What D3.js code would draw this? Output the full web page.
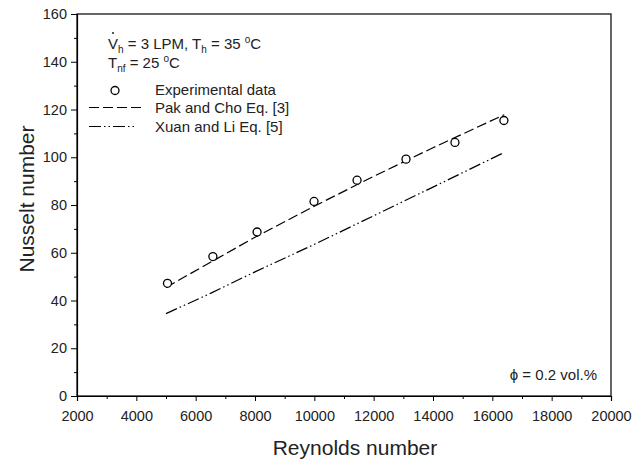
<!DOCTYPE html>
<html>
<head>
<meta charset="utf-8">
<title>Nusselt vs Reynolds</title>
<script src="https://cdn.jsdelivr.net/npm/d3@7"></script>
<style>
  body { margin: 0; background: #fff; }
  text { font-family: "Liberation Sans", Arial, sans-serif; fill: #222; }
</style>
</head>
<body>
<script>
// data
var expRe = [5050, 6580, 8070, 9990, 11440, 13090, 14740, 16390];
var expNu = [47.2, 58.4, 68.7, 81.5, 90.4, 99.2, 106.2, 115.4];

var pakRe = [5000, 6500, 8000, 10000, 12000, 14000, 16400];
var pakNu = [45.5, 56, 66.5, 79.5, 92, 104, 117.8];

var xuanRe = [5000, 6500, 8000, 10000, 12000, 14000, 16400];
var xuanNu = [34.5, 43, 52, 63.5, 75.5, 87.5, 102];

var xTicks = [2000, 4000, 6000, 8000, 10000, 12000, 14000, 16000, 18000, 20000];
var yTicks = [0, 20, 40, 60, 80, 100, 120, 140, 160];

var W = 632, H = 462;
var margin = {left: 77, right: 21, top: 14, bottom: 66};

var svg = d3.select("body").append("svg")
    .attr("width", W).attr("height", H);

var x = d3.scaleLinear().domain([2000, 20000]).range([margin.left, W - margin.right]);
var y = d3.scaleLinear().domain([0, 160]).range([H - margin.bottom, margin.top]);

// frame
svg.append("rect")
    .attr("x", x(2000)).attr("y", y(160))
    .attr("width", x(20000) - x(2000)).attr("height", y(0) - y(160))
    .attr("fill", "none").attr("stroke", "#000").attr("stroke-width", 1.2);

// minor ticks
var xMinor = d3.range(3000, 20000, 2000);
var yMinor = d3.range(10, 160, 20);

svg.append("g")
    .attr("transform", "translate(0," + y(0) + ")")
    .call(d3.axisBottom(x).tickValues(xTicks).tickFormat(d3.format("d")).tickSize(5).tickPadding(10));
svg.append("g")
    .attr("transform", "translate(0," + y(0) + ")")
    .call(d3.axisBottom(x).tickValues(xMinor).tickFormat("").tickSize(3))
    .select(".domain").remove();

svg.append("g")
    .attr("transform", "translate(" + x(2000) + ",0)")
    .call(d3.axisLeft(y).tickValues(yTicks).tickSize(6).tickPadding(4));
svg.append("g")
    .attr("transform", "translate(" + x(2000) + ",0)")
    .call(d3.axisLeft(y).tickValues(yMinor).tickFormat("").tickSize(3))
    .select(".domain").remove();

svg.selectAll(".domain").attr("stroke", "#000").attr("stroke-width", 1.2);
svg.selectAll(".tick line").attr("stroke", "#000").attr("stroke-width", 1);
svg.selectAll(".tick text").style("font-size", "14.5px").attr("fill", "#222");

// axis titles
svg.append("text")
    .attr("x", 355).attr("y", 455)
    .attr("text-anchor", "middle").style("font-size", "21px")
    .text("Reynolds number");
svg.append("text")
    .attr("transform", "translate(34,199) rotate(-90)")
    .attr("text-anchor", "middle").style("font-size", "21px")
    .text("Nusselt number");

// lines
var line = d3.line().x(function(d) { return x(d[0]); }).y(function(d) { return y(d[1]); });

svg.append("path")
    .datum(d3.zip(pakRe, pakNu))
    .attr("d", line)
    .attr("fill", "none").attr("stroke", "#000").attr("stroke-width", 1.2)
    .attr("stroke-dasharray", "10,4");

svg.append("path")
    .datum(d3.zip(xuanRe, xuanNu))
    .attr("d", line)
    .attr("fill", "none").attr("stroke", "#000").attr("stroke-width", 1.2)
    .attr("stroke-dasharray", "12,3,1.5,3,1.5,3");

// experimental points
svg.selectAll(".pt")
    .data(d3.zip(expRe, expNu))
    .enter().append("circle")
    .attr("class", "pt")
    .attr("cx", function(d) { return x(d[0]); })
    .attr("cy", function(d) { return y(d[1]); })
    .attr("r", 4)
    .attr("fill", "#fff").attr("stroke", "#000").attr("stroke-width", 1.3);

// annotation
var ann = svg.append("text").attr("x", 108).attr("y", 49).style("font-size", "15px");
ann.append("tspan").text("V");
ann.append("tspan").attr("dy", 4).style("font-size", "10px").text("h");
ann.append("tspan").attr("dy", -4).text(" = 3 LPM, T");
ann.append("tspan").attr("dy", 4).style("font-size", "10px").text("h");
ann.append("tspan").attr("dy", -4).text(" = 35 ");
ann.append("tspan").attr("dy", -6).style("font-size", "10px").text("o");
ann.append("tspan").attr("dy", 6).text("C");
// dot over V
svg.append("circle").attr("cx", 113).attr("cy", 33).attr("r", 1).attr("fill", "#222");

var ann2 = svg.append("text").attr("x", 108).attr("y", 67.5).style("font-size", "15px");
ann2.append("tspan").text("T");
ann2.append("tspan").attr("dy", 4).style("font-size", "10px").text("nf");
ann2.append("tspan").attr("dy", -4).text(" = 25 ");
ann2.append("tspan").attr("dy", -6).style("font-size", "10px").text("o");
ann2.append("tspan").attr("dy", 6).text("C");

// legend
var legY = [89.5, 107.5, 126.5];
var legLabels = ["Experimental data", "Pak and Cho Eq. [3]", "Xuan and Li Eq. [5]"];
svg.append("circle").attr("cx", 115).attr("cy", legY[0] + 1)
    .attr("r", 4).attr("fill", "#fff").attr("stroke", "#000").attr("stroke-width", 1.3);
svg.append("line").attr("x1", 89).attr("x2", 142).attr("y1", legY[1]).attr("y2", legY[1])
    .attr("stroke", "#000").attr("stroke-width", 1.2).attr("stroke-dasharray", "10,4");
svg.append("line").attr("x1", 89).attr("x2", 137).attr("y1", legY[2]).attr("y2", legY[2])
    .attr("stroke", "#000").attr("stroke-width", 1.2).attr("stroke-dasharray", "12,3,1.5,3,1.5,3");
svg.selectAll(".leg")
    .data(legLabels)
    .enter().append("text")
    .attr("class", "leg")
    .attr("x", 155)
    .attr("y", function(d, i) { return legY[i] + 5; })
    .style("font-size", "15px")
    .text(function(d) { return d; });

// phi label
svg.append("text")
    .attr("x", 597).attr("y", 379.5)
    .attr("text-anchor", "end").style("font-size", "15px")
    .text("\u03D5 = 0.2 vol.%");
</script>
</body>
</html>
